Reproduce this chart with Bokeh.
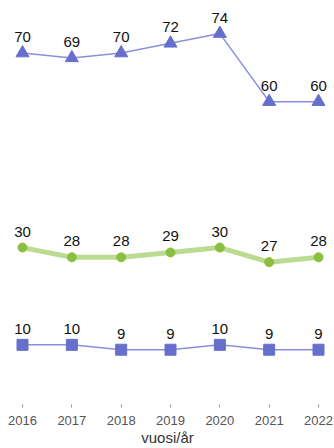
from bokeh.plotting import figure
from bokeh.models import Range1d, FixedTicker, ColumnDataSource
from bokeh.core.properties import value
from bokeh.embed import file_html
from bokeh.resources import INLINE

years = [2016, 2017, 2018, 2019, 2020, 2021, 2022]
top_series = [70, 69, 70, 72, 74, 60, 60]
mid_series = [30, 28, 28, 29, 30, 27, 28]
low_series = [10, 10, 9, 9, 10, 9, 9]
x_label = "vuosi/år"

FONT = "Liberation Sans"
BLUE_LINE = "#8890dc"
BLUE_MARK = "#6670cc"
GREEN_LINE = "#bcdb92"
GREEN_MARK = "#8cbf3f"

p = figure(width=334, height=448, output_backend="svg", toolbar_location=None,
           min_border_left=0, min_border_right=0, min_border_top=0, min_border_bottom=0,
           outline_line_color=None)
p.x_range = Range1d(2015.554, 2022.324)
p.y_range = Range1d(-2.26, 80.8)

p.grid.visible = False
p.yaxis.visible = False
ax = p.xaxis[0]
ax.ticker = FixedTicker(ticks=years)
ax.axis_line_color = None
ax.major_tick_in = 0
ax.major_tick_out = 3
ax.major_tick_line_color = "#999999"
ax.minor_tick_line_color = None
ax.major_label_text_font = FONT
ax.major_label_text_font_size = "13px"
ax.major_label_text_color = "#555555"
ax.major_label_standoff = 8
ax.axis_label = x_label
ax.axis_label_text_font = FONT
ax.axis_label_text_font_size = "15px"
ax.axis_label_text_font_style = "normal"
ax.axis_label_text_color = "#333333"
ax.axis_label_standoff = 1

def labels(vals):
    return [str(v) for v in vals]

src_top = ColumnDataSource(dict(x=years, y=top_series, t=labels(top_series)))
src_mid = ColumnDataSource(dict(x=years, y=mid_series, t=labels(mid_series)))
src_low = ColumnDataSource(dict(x=years, y=low_series, t=labels(low_series)))

p.line("x", "y", source=src_top, line_color=BLUE_LINE, line_width=1.5)
p.scatter("x", "y", source=src_top, marker="triangle", size=13,
          fill_color=BLUE_MARK, line_color=BLUE_MARK)

p.line("x", "y", source=src_mid, line_color=GREEN_LINE, line_width=5)
p.scatter("x", "y", source=src_mid, marker="circle", size=9,
          fill_color=GREEN_MARK, line_color=GREEN_MARK)

p.line("x", "y", source=src_low, line_color=BLUE_LINE, line_width=1.5)
p.scatter("x", "y", source=src_low, marker="square", size=11,
          fill_color=BLUE_MARK, line_color=BLUE_MARK)

for src in (src_top, src_mid, src_low):
    p.text("x", "y", text="t", source=src, text_align="center",
           text_baseline="alphabetic", y_offset=-16,
           text_font=value(FONT), text_font_size="15px", text_color="#111111")

open("out.html", "w").write(file_html(p, INLINE))
